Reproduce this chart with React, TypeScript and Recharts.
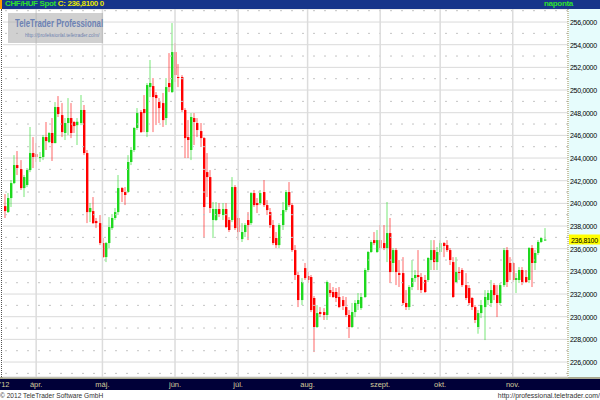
import React from 'react';
import { ComposedChart, Bar, XAxis, YAxis, CartesianGrid, ReferenceLine } from 'recharts';

// CHF/HUF daily candles, mid-March .. mid-November 2012
const opens = [
  239.76, 239.23, 240.47, 241.79, 243.38, 243.03, 241.35, 241.62, 242.94, 244.44,
  244.35, 244.0, 244.09, 245.85, 245.41, 246.21, 245.32, 248.5, 247.79, 246.21,
  247.09, 247.53, 247.18, 246.9, 247.09, 248.24, 244.44, 239.23, 239.32, 238.44,
  238.26, 236.5, 235.26, 236.5, 237.82, 238.71, 239.23, 241.35, 241.0, 241.0,
  243.65, 244.71, 246.65, 248.06, 248.32, 246.29, 250.26, 250.35, 249.56, 248.94,
  248.85, 247.53, 250.62, 249.82, 253.35, 251.15, 251.15, 248.24, 245.85, 244.71,
  247.53, 247.09, 246.38, 245.76, 242.76, 242.32, 238.53, 238.53, 239.5, 238.97,
  239.5, 238.53, 238.53, 241.44, 238.71, 236.85, 237.47, 238.53, 238.26, 240.91,
  240.03, 240.03, 241.0, 239.85, 239.23, 238.09, 236.94, 236.32, 238.09, 239.41,
  241.0, 239.85, 235.88, 233.68, 231.47, 234.29, 233.59, 233.5, 231.65, 229.09,
  230.41, 230.41, 230.15, 232.35, 232.18, 232.18, 231.74, 231.47, 230.85, 230.15,
  229.09, 230.41, 231.12, 230.76, 231.74, 234.12, 235.71, 236.76, 235.71, 236.76,
  236.5, 236.06, 237.38, 234.74, 235.88, 233.85, 233.85, 231.21, 230.85, 232.62,
  233.41, 233.68, 233.5, 233.24, 233.24, 235.0, 235.88, 234.82, 235.71, 236.5,
  236.32, 235.88, 234.82, 233.06, 233.94, 234.12, 232.79, 232.53, 231.65, 230.85,
  229.09, 230.32, 230.85, 231.47, 231.21, 232.79, 231.91, 231.21, 232.79, 235.88,
  234.74, 234.74, 233.24, 233.24, 234.12, 233.5, 233.24, 236.06, 234.74, 235.62,
  236.59, 236.76,
];
const highs = [
  240.82, 240.91, 242.06, 244.26, 244.62, 243.82, 242.5, 243.12, 246.74, 245.85,
  245.32, 244.53, 246.03, 247.18, 246.29, 247.53, 248.94, 249.47, 248.85, 247.53,
  249.29, 248.85, 247.26, 247.53, 249.56, 248.68, 244.71, 240.03, 240.56, 238.71,
  238.97, 236.94, 236.59, 238.79, 239.06, 239.59, 242.5, 241.44, 241.44, 244.26,
  244.97, 246.74, 248.41, 248.24, 249.56, 250.62, 252.65, 251.06, 249.82, 249.29,
  249.74, 251.06, 253.26, 255.91, 254.15, 252.29, 251.32, 248.41, 247.35, 247.97,
  247.97, 247.53, 247.09, 245.85, 244.44, 242.94, 240.12, 240.12, 240.03, 240.03,
  240.03, 238.79, 242.32, 241.62, 239.41, 238.26, 238.26, 239.23, 241.0, 241.18,
  240.47, 241.18, 242.06, 240.29, 239.59, 238.53, 237.47, 238.26, 240.12, 241.18,
  241.88, 240.03, 236.32, 233.94, 233.41, 234.74, 233.94, 233.68, 231.82, 231.03,
  230.85, 230.76, 233.2, 232.97, 232.62, 232.53, 232.62, 231.82, 231.74, 230.59,
  231.21, 231.47, 232.09, 232.09, 234.29, 235.8, 236.76, 237.47, 237.65, 238.09,
  238.09, 240.12, 238.71, 236.06, 236.06, 235.0, 235.26, 232.35, 232.79, 235.0,
  234.12, 235.88, 233.85, 233.68, 235.26, 236.76, 236.76, 236.15, 236.76, 236.59,
  236.76, 236.06, 235.26, 235.26, 234.38, 234.29, 233.85, 232.79, 231.74, 231.03,
  230.59, 231.47, 232.35, 232.35, 233.24, 232.97, 232.79, 232.97, 236.06, 236.15,
  235.26, 234.82, 233.85, 234.38, 234.38, 234.12, 236.15, 236.32, 235.88, 236.76,
  237.03, 237.82,
];
const lows = [
  238.71, 239.15, 239.68, 241.7, 242.5, 241.18, 240.56, 241.44, 242.76, 243.12,
  243.65, 243.65, 243.82, 244.71, 245.32, 243.74, 245.3, 247.62, 245.85, 245.59,
  246.03, 245.76, 246.21, 245.15, 246.9, 244.26, 238.26, 238.35, 238.18, 237.82,
  236.32, 235.18, 234.82, 236.06, 237.65, 238.53, 238.97, 240.12, 239.85, 240.91,
  243.38, 244.53, 246.47, 246.21, 246.29, 245.85, 249.38, 246.29, 246.91, 247.09,
  246.74, 246.91, 249.82, 249.74, 250.71, 250.26, 248.06, 244.0, 244.0, 243.82,
  245.15, 245.85, 244.97, 236.94, 240.56, 239.15, 236.94, 238.44, 238.79, 238.53,
  237.82, 237.47, 238.35, 237.65, 236.76, 236.59, 237.03, 236.76, 238.09, 239.68,
  239.15, 239.85, 239.68, 238.97, 237.82, 236.32, 236.06, 236.06, 237.65, 239.23,
  239.68, 235.71, 233.24, 230.85, 231.03, 233.24, 232.97, 230.41, 226.88, 229.0,
  229.97, 229.71, 229.71, 231.74, 231.65, 231.29, 230.76, 230.59, 229.97, 228.12,
  229.0, 229.97, 230.59, 230.59, 231.65, 233.94, 235.62, 236.32, 235.62, 235.88,
  235.88, 234.82, 232.97, 233.94, 232.79, 232.62, 231.03, 230.59, 230.59, 232.35,
  233.06, 232.35, 232.09, 232.09, 233.06, 234.12, 234.12, 234.12, 235.44, 235.26,
  235.71, 234.56, 231.65, 232.97, 233.24, 232.62, 231.47, 231.03, 230.59, 229.44,
  228.5, 229.88, 227.94, 231.03, 230.85, 231.47, 229.97, 231.03, 232.62, 232.62,
  233.24, 233.06, 232.09, 232.97, 232.79, 232.97, 232.97, 232.62, 234.12, 235.44,
  236.5, 236.68,
];
const closes = [
  239.32, 240.47, 241.79, 243.38, 243.12, 241.35, 242.32, 242.94, 244.44, 244.09,
  244.09, 244.09, 245.85, 245.5, 246.21, 245.32, 248.5, 247.88, 246.29, 247.09,
  247.53, 246.21, 246.82, 247.2, 248.24, 244.44, 239.23, 239.59, 238.26, 238.26,
  236.5, 235.26, 236.5, 237.91, 238.71, 239.23, 241.35, 241.0, 240.74, 243.65,
  244.71, 246.65, 247.97, 246.29, 247.97, 250.44, 250.62, 249.38, 249.29, 248.41,
  247.35, 250.26, 250.26, 253.35, 251.32, 251.06, 248.24, 245.76, 245.59, 247.62,
  247.18, 246.47, 245.76, 239.68, 242.32, 239.59, 239.5, 239.5, 239.06, 239.5,
  237.91, 237.65, 241.44, 237.82, 237.47, 237.47, 238.09, 238.09, 240.91, 239.85,
  239.85, 240.91, 239.85, 239.41, 238.09, 236.5, 236.32, 238.09, 239.41, 241.0,
  239.85, 235.88, 233.68, 231.47, 233.06, 233.41, 233.24, 230.59, 229.09, 230.32,
  230.24, 230.15, 233.06, 232.09, 231.74, 231.65, 230.85, 230.94, 230.15, 229.09,
  230.41, 231.21, 231.47, 231.74, 234.12, 235.71, 236.59, 236.5, 236.76, 236.06,
  236.06, 237.38, 233.94, 235.88, 233.94, 233.68, 231.21, 230.85, 232.62, 233.41,
  233.68, 233.5, 232.35, 232.18, 235.18, 235.88, 234.82, 235.71, 236.5, 236.24,
  235.88, 235.0, 231.74, 233.94, 233.85, 232.79, 231.65, 231.21, 230.85, 229.71,
  230.32, 231.03, 231.74, 232.09, 232.35, 231.91, 231.21, 232.79, 235.88, 233.06,
  233.94, 233.24, 233.41, 234.12, 233.06, 233.06, 236.06, 234.74, 235.62, 236.59,
  236.94, 236.81,
];

const emptyDaysAfter = 7;
const monthTickIdx = [0, 10, 31, 54, 74, 96, 119, 138, 161];
const monthLabels = ["'12", 'ápr.', 'máj.', 'jún.', 'júl.', 'aug.', 'szept.', 'okt.', 'nov.'];
const monthLineIdx = [10, 31, 54, 74, 96, 119, 138, 161];
const yTicks = [226, 228, 230, 232, 234, 236, 238, 240, 242, 244, 246, 248, 250, 252, 254, 256];
const yMinorLevels = [225, 227, 229, 231, 233, 235, 237, 239, 241, 243, 245, 247, 249, 251, 253, 255, 257];
const yDomain: [number, number] = [224.68, 257.15];
const lastClose = 236.81;
const lastCloseLabel = '236,8100';

const data = Array.from({ length: opens.length + emptyDaysAfter }, (_, i) =>
  i < opens.length
    ? { i, o: opens[i], h: highs[i], l: lows[i], c: closes[i], range: [lows[i], highs[i]] }
    : { i }
);

const UP = '#1ed81e';
const DOWN = '#ff0000';

const Candle = (props: any) => {
  const { x, y, width, height, payload } = props;
  if (!payload || payload.h == null || y == null) return null;
  const top = Math.min(y, y + height);
  const bot = Math.max(y, y + height);
  const span = payload.h - payload.l || 1;
  const py = (v: number) => top + ((payload.h - v) / span) * (bot - top);
  const up = payload.c >= payload.o;
  const col = up ? UP : DOWN;
  const cx = Math.round(x + width / 2);
  const bTop = py(Math.max(payload.o, payload.c));
  const bBot = py(Math.min(payload.o, payload.c));
  return (
    <g>
      <rect x={cx - 0.5} y={top} width={1} height={Math.max(bot - top, 1)} fill={col} opacity={0.6} />
      <rect x={cx - 1} y={bTop} width={2.4} height={Math.max(bBot - bTop, 1)} fill={col} />
    </g>
  );
};

const YTick = (props: any) => {
  const { x, y, payload } = props;
  return (
    <text x={x} y={y + 3} fontSize={7} fill="#000" textAnchor="start" style={{ letterSpacing: '-0.3px' }}>
      {payload.value.toFixed(4).replace('.', ',')}
    </text>
  );
};

const XTick = (props: any) => {
  const { x, y, payload } = props;
  const k = monthTickIdx.indexOf(payload.value);
  return (
    <text x={x} y={y + 10} fontSize={7.5} fill="#d4cc9c" textAnchor="middle">
      {k >= 0 ? monthLabels[k] : ''}
    </text>
  );
};

const PriceTag = (props: any) => {
  const vb = props.viewBox || {};
  const x = (vb.x || 0) + (vb.width || 0) + 1;
  const y = vb.y || 0;
  return (
    <g>
      <rect x={x} y={y - 5} width={31} height={10} fill="#ffff00" />
      <text x={x + 2} y={y + 3} fontSize={7} fill="#000" style={{ letterSpacing: '-0.3px' }}>
        {lastCloseLabel}
      </text>
    </g>
  );
};

const FONT = '"Liberation Sans", Arial, sans-serif';

export default function App() {
  return (
    <div
      style={{
        position: 'absolute',
        left: 0,
        top: 0,
        width: 600,
        height: 400,
        background: '#ffffff',
        overflow: 'hidden',
        fontFamily: FONT,
      }}
    >
      {/* right axis background */}
      <div style={{ position: 'absolute', left: 569, top: 9, width: 31, height: 369, background: '#e6fcfc' }} />
      {/* bottom axis bar */}
      <div style={{ position: 'absolute', left: 0, top: 377, width: 600, height: 2, background: '#a8a890' }} />
      <div style={{ position: 'absolute', left: 0, top: 379, width: 600, height: 11, background: '#000038' }} />
      {/* left dotted border */}
      <div style={{ position: 'absolute', left: 1, top: 9, width: 0, height: 368, borderLeft: '1px dotted #555' }} />

      <div style={{ position: 'absolute', left: 0, top: 0 }}>
        <ComposedChart width={600} height={400} data={data} margin={{ top: 9, right: 0, left: 3, bottom: 10 }}>
          <CartesianGrid vertical={false} stroke="#dadada" />
          {yMinorLevels.map((v) => (
            <ReferenceLine key={'m' + v} y={v} stroke="#c4c4c4" strokeDasharray="2 9" />
          ))}
          {monthLineIdx.map((v) => (
            <ReferenceLine key={'v' + v} x={v} stroke="#dcdcdc" strokeWidth={1.5} />
          ))}
          <XAxis
            dataKey="i"
            type="category"
            ticks={monthTickIdx}
            interval={0}
            height={13}
            tickSize={0}
            tickMargin={0}
            axisLine={false}
            tickLine={false}
            tick={<XTick />}
          />
          <YAxis
            orientation="right"
            width={32}
            domain={yDomain}
            allowDataOverflow
            ticks={yTicks}
            interval={0}
            tickSize={0}
            tickMargin={2}
            tickLine={false}
            axisLine={{ stroke: '#8c8c50', strokeDasharray: '1 1' }}
            tick={<YTick />}
          />
          <Bar dataKey="range" shape={<Candle />} isAnimationActive={false} />
          <ReferenceLine y={lastClose} stroke="none" label={<PriceTag />} />
        </ComposedChart>
      </div>

      {/* top title bar */}
      <div style={{ position: 'absolute', left: 0, top: 0, width: 600, height: 9, background: '#17358a' }} />
      <div style={{ position: 'absolute', left: 0, top: 0, width: 2, height: 9, background: '#ff9a00' }} />
      <div
        style={{
          position: 'absolute',
          left: 5,
          top: -1,
          fontSize: 8,
          fontWeight: 'bold',
          lineHeight: '10px',
          whiteSpace: 'nowrap',
          letterSpacing: '-0.35px',
        }}
      >
        <span style={{ color: '#2ee02e' }}>CHF/HUF Spot </span>
        <span style={{ color: '#e8e800' }}>C: 236,8100 0</span>
      </div>
      <div
        style={{
          position: 'absolute',
          left: 544,
          top: -1,
          fontSize: 8,
          fontWeight: 'bold',
          lineHeight: '10px',
          color: '#2ee02e',
          letterSpacing: '-0.3px',
        }}
      >
        naponta
      </div>

      {/* watermark */}
      <div
        style={{
          position: 'absolute',
          left: 8,
          top: 13,
          width: 95,
          height: 30,
          background: 'rgba(170,170,170,0.55)',
        }}
      />
      <div
        style={{
          position: 'absolute',
          left: 15,
          top: 17,
          fontSize: 11.5,
          fontWeight: 'bold',
          color: '#6c82b4',
          whiteSpace: 'nowrap',
          lineHeight: '13px',
          transform: 'scaleX(0.68)',
          transformOrigin: 'left top',
        }}
      >
        TeleTrader Professional
      </div>
      <div
        style={{
          position: 'absolute',
          left: 25,
          top: 31,
          fontSize: 6,
          color: '#7084b0',
          whiteSpace: 'nowrap',
          lineHeight: '8px',
          transform: 'scaleX(0.84)',
          transformOrigin: 'left top',
        }}
      >
        http://professional.teletrader.com/
      </div>

      {/* footer */}
      <div
        style={{
          position: 'absolute',
          left: 0,
          top: 391,
          fontSize: 7.5,
          color: '#333',
          whiteSpace: 'nowrap',
          lineHeight: '9px',
          transform: 'scaleX(0.88)',
          transformOrigin: 'left top',
        }}
      >
        © 2012 TeleTrader Software GmbH
      </div>
      <div
        style={{
          position: 'absolute',
          right: 0,
          top: 391,
          fontSize: 7.5,
          color: '#333',
          whiteSpace: 'nowrap',
          lineHeight: '9px',
          transform: 'scaleX(0.92)',
          transformOrigin: 'right top',
        }}
      >
        http://professional.teletrader.com/
      </div>
    </div>
  );
}
